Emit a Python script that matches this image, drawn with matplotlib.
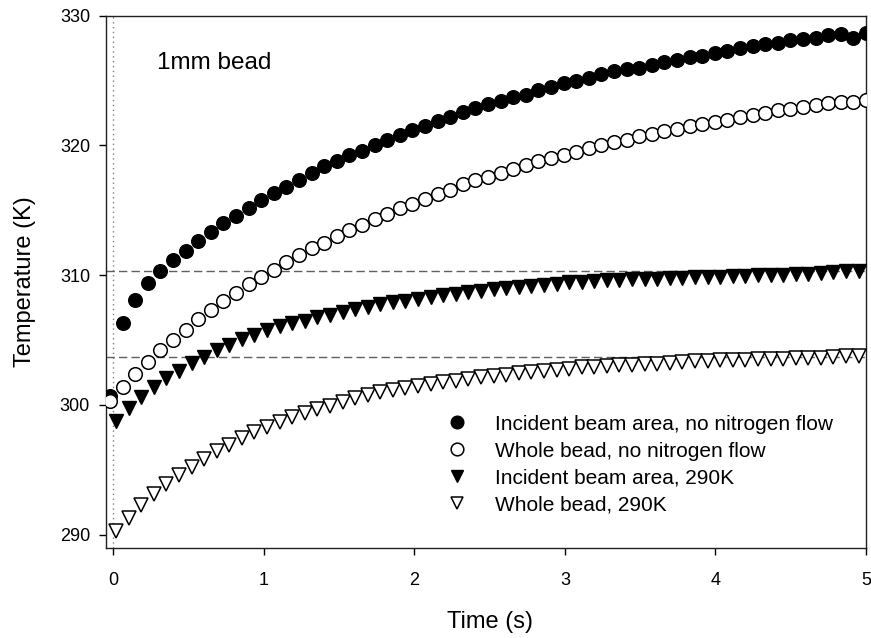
import numpy as np
import matplotlib
matplotlib.use("Agg")
import matplotlib.pyplot as plt

plt.rcParams['font.family'] = ['Liberation Sans', 'DejaVu Sans']

# ---- data ----
# sampling times of the "no nitrogen flow" runs (61 samples) and of the 290K runs (60 samples)
t_noflow = np.linspace(-0.022, 5.0, 61)
t_cold = np.linspace(0.018, 4.951, 60)

incident_noflow = [300.7, 306.3, 308.1, 309.4, 310.3, 311.2, 311.9, 312.6, 313.3, 314.0,
                   314.6, 315.2, 315.8, 316.3, 316.8, 317.3, 317.9, 318.4, 318.8, 319.3,
                   319.6, 320.0, 320.4, 320.8, 321.2, 321.5, 321.9, 322.2, 322.6, 322.9,
                   323.2, 323.4, 323.7, 323.9, 324.3, 324.5, 324.8, 325.0, 325.2, 325.5,
                   325.7, 325.9, 326.0, 326.2, 326.4, 326.6, 326.8, 326.9, 327.1, 327.3,
                   327.5, 327.7, 327.8, 327.9, 328.1, 328.2, 328.3, 328.5, 328.6, 328.3,
                   328.7]

whole_noflow = [300.3, 301.4, 302.4, 303.3, 304.2, 305.0, 305.8, 306.6, 307.3, 308.0,
                308.6, 309.3, 309.9, 310.4, 311.0, 311.55, 312.1, 312.5, 313.0, 313.5,
                313.9, 314.35, 314.75, 315.15, 315.5, 315.9, 316.25, 316.6, 317.0, 317.3,
                317.6, 317.9, 318.2, 318.5, 318.8, 319.0, 319.3, 319.5, 319.8, 320.05,
                320.25, 320.45, 320.7, 320.9, 321.1, 321.3, 321.5, 321.65, 321.8, 322.0,
                322.2, 322.35, 322.5, 322.7, 322.8, 323.0, 323.1, 323.25, 323.35, 323.35,
                323.5]

incident_290 = [298.8, 299.8, 300.6, 301.4, 302.05, 302.6, 303.2, 303.7, 304.2, 304.65,
                305.05, 305.4, 305.75, 306.05, 306.3, 306.5, 306.75, 306.95, 307.2, 307.4,
                307.55, 307.75, 307.9, 308.05, 308.2, 308.3, 308.45, 308.55, 308.7, 308.8,
                308.9, 309.0, 309.1, 309.2, 309.25, 309.35, 309.45, 309.5, 309.55, 309.6,
                309.65, 309.68, 309.7, 309.73, 309.77, 309.8, 309.83, 309.87, 309.9, 309.93,
                309.96, 310.0, 310.02, 310.05, 310.1, 310.13, 310.18, 310.23, 310.33, 310.33]

whole_290 = [290.28, 291.26, 292.29, 293.12, 293.89, 294.61, 295.25, 295.87, 296.47, 296.93,
             297.45, 297.91, 298.3, 298.69, 299.04, 299.38, 299.66, 299.95, 300.26, 300.51,
             300.74, 300.97, 301.18, 301.31, 301.44, 301.62, 301.78, 301.88, 302.03, 302.17,
             302.27, 302.34, 302.47, 302.55, 302.65, 302.73, 302.81, 302.91, 302.94, 302.99,
             303.06, 303.1, 303.17, 303.19, 303.27, 303.31, 303.36, 303.4, 303.43, 303.47,
             303.5, 303.52, 303.54, 303.57, 303.6, 303.63, 303.65, 303.67, 303.74, 303.75]

labels = ["Incident beam area, no nitrogen flow", "Whole bead, no nitrogen flow",
          "Incident beam area, 290K", "Whole bead, 290K"]
plateaus = [310.33, 303.68]
x_ticks = [0, 1, 2, 3, 4, 5]
y_ticks = [290, 300, 310, 320, 330]

# ---- figure ----
fig = plt.figure(figsize=(8.71, 6.38), dpi=100)
ax = fig.add_axes([0.1214, 0.1415, 0.8729, 0.8339])

ax.axvline(0, color='#808080', lw=1.0, ls=(0, (1, 2.5)), zorder=1)
for p in plateaus:
    ax.axhline(p, color='#606060', lw=1.0, ls=(0, (6, 3)), zorder=1)

ms = 9.8
ax.plot(t_noflow, incident_noflow, 'o', ms=ms, mfc='black', mec='black', mew=1.0,
        label=labels[0], zorder=3)
ax.plot(t_noflow, whole_noflow, 'o', ms=ms, mfc='white', mec='black', mew=1.1,
        label=labels[1], zorder=3)
ax.plot(t_cold, incident_290, 'v', ms=ms, mfc='black', mec='black', mew=1.0,
        label=labels[2], zorder=3)
ax.plot(t_cold, whole_290, 'v', ms=ms, mfc='white', mec='black', mew=1.1,
        label=labels[3], zorder=3)

ax.set_xlim(-0.05, 5.0)
ax.set_ylim(289.0, 330.0)
ax.set_xticks(x_ticks)
ax.set_yticks(y_ticks)
ax.tick_params(direction='out', length=5, width=1, labelsize=13,
               top=False, right=False)
ax.tick_params(axis='y', pad=6.3)
ax.tick_params(axis='x', pad=12.5)
for s in ax.spines.values():
    s.set_linewidth(1.0)
    s.set_color('#202020')

ax.set_xlabel("Time (s)", fontsize=17)
ax.set_ylabel("Temperature (K)", fontsize=17)
ax.xaxis.set_label_coords(0.506, -0.1397)
ax.xaxis.label.set_va('center')
ax.yaxis.set_label_coords(-0.106, 0.5)
ax.yaxis.label.set_va('center')

ax.text(0.067, 0.912, "1mm bead", transform=ax.transAxes, fontsize=17.5,
        ha='left', va='center')

ax.legend(loc='upper left', bbox_to_anchor=(0.448, 0.250), frameon=False,
          fontsize=15, numpoints=1, handlelength=1.0, handletextpad=1.34,
          labelspacing=0.38, borderpad=0, borderaxespad=0, markerscale=0.93)

fig.savefig("out.png", dpi=100)
